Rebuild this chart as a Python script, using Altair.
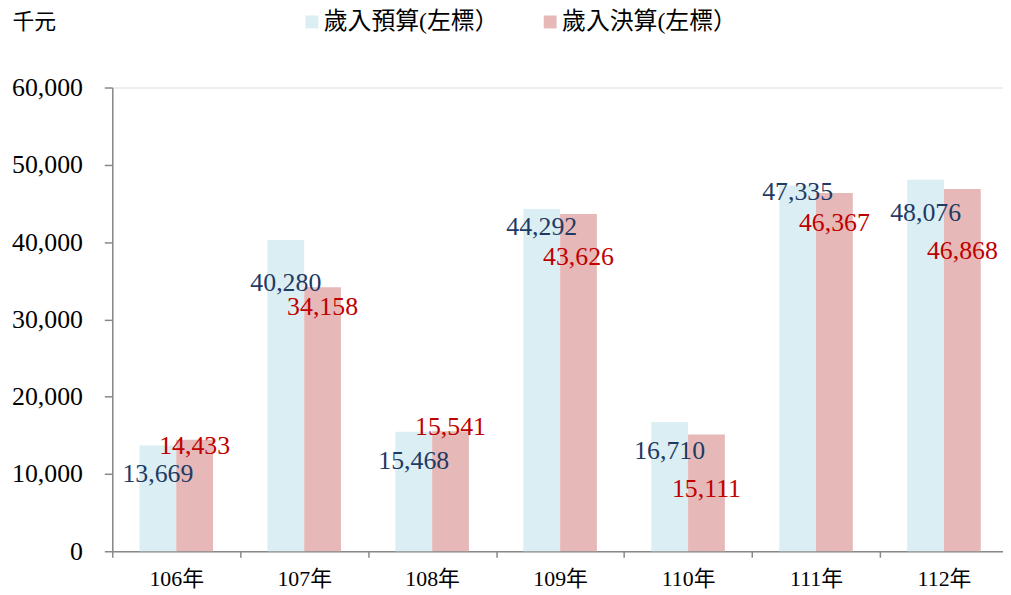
import altair as alt
import pandas as pd

years = ["106年", "107年", "108年", "109年", "110年", "111年", "112年"]
series = ["歲入預算(左標）", "歲入決算(左標）"]
budget = [13669, 40280, 15468, 44292, 16710, 47335, 48076]
actual = [14433, 34158, 15541, 43626, 15111, 46367, 46868]
# label anchor heights (in 千元)
budget_label_at = [10000, 34700, 11700, 42000, 13000, 46500, 43700]
actual_label_at = [13600, 31600, 16100, 38000, 8000, 42500, 38900]

bar_colors = ["#DAEEF3", "#E6B9B8"]
text_colors = ["#1F3B64", "#C00000"]

rows = []
for i, y in enumerate(years):
    rows.append({"year": y, "series": series[0], "value": budget[i], "lab": budget_label_at[i]})
    rows.append({"year": y, "series": series[1], "value": actual[i], "lab": actual_label_at[i]})
df = pd.DataFrame(rows)

FONT = "Liberation Serif, Noto Sans CJK TC"

x = alt.X("year:N", sort=years, title=None,
          scale=alt.Scale(paddingInner=0, paddingOuter=0, range=[0, 902]),
          axis=alt.Axis(labelAngle=0, tickBand="extent", domainColor="#888888",
                        tickColor="#888888", tickSize=6, domainWidth=1.5, tickWidth=1.5,
                        labelFont=FONT, labelFontSize=22, labelColor="#000000",
                        labelPadding=11, labelLimit=0))
xo = alt.XOffset("series:N", sort=series,
                 scale=alt.Scale(paddingInner=0, paddingOuter=0.74))

bars = alt.Chart(df).mark_bar().encode(
    x=x,
    xOffset=xo,
    y=alt.Y("value:Q", scale=alt.Scale(domain=[0, 60000]),
            axis=alt.Axis(values=[0, 10000, 20000, 30000, 40000, 50000, 60000],
                          format=",d", grid=False, domainColor="#888888",
                          tickColor="#888888", tickSize=8, domainWidth=1.5, tickWidth=1.5,
                          labelFont=FONT, labelFontSize=26, labelColor="#000000",
                          labelPadding=22, title="千元", titleAngle=0,
                          titleAlign="left", titleBaseline="middle",
                          titleX=-101, titleY=-66, titleFont=FONT,
                          titleFontSize=22, titleFontWeight="normal",
                          titleColor="#000000")),
    color=alt.Color("series:N", sort=series,
                    scale=alt.Scale(domain=series, range=bar_colors),
                    legend=alt.Legend(title=None, orient="none", legendX=189, legendY=-78,
                                      direction="horizontal", symbolType="square",
                                      symbolSize=169, symbolStrokeWidth=0,
                                      labelFont=FONT, labelFontSize=24,
                                      labelColor="#000000", labelOffset=0,
                                      labelLimit=0, columnPadding=40)),
)

labels = alt.Chart(df).mark_text(font=FONT, fontSize=26, baseline="middle",
                                 align="center").encode(
    x=alt.X("year:N", sort=years),
    xOffset=alt.XOffset("series:N", sort=series),
    y=alt.Y("lab:Q"),
    text=alt.Text("value:Q", format=","),
    color=alt.Color("series:N", sort=series,
                    scale=alt.Scale(domain=series, range=text_colors), legend=None),
)

chart = alt.layer(bars, labels).resolve_scale(color="independent").properties(
    width=897, height=467,
    padding={"left": 105, "top": 78, "right": 0, "bottom": 44},
    autosize=alt.AutoSizeParams(type="none"),
).configure_view(stroke=None).configure(background="#ffffff")

chart.save("out.html", embed_options={"renderer": "svg", "actions": False})
